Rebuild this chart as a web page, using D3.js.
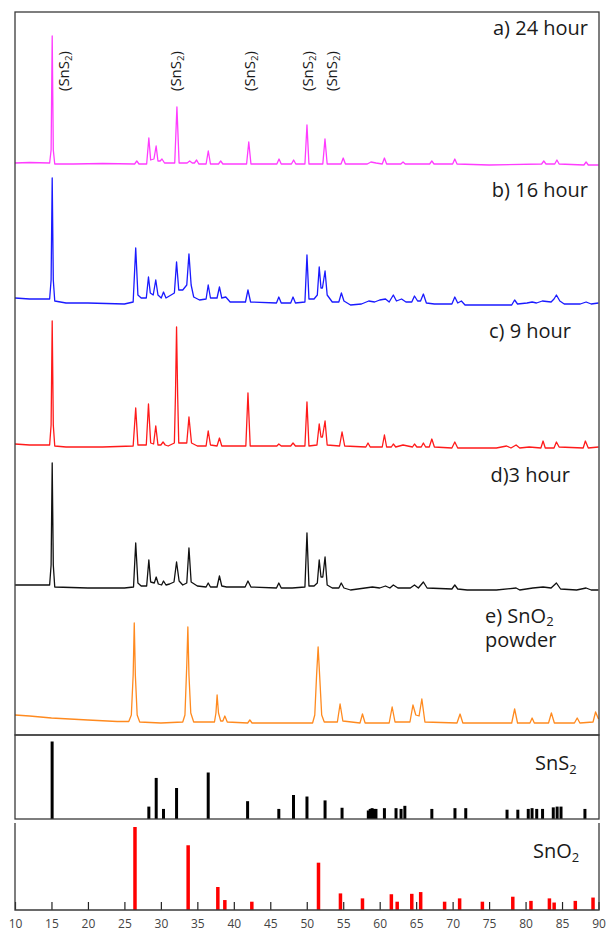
<!DOCTYPE html>
<html>
<head>
<meta charset="utf-8">
<script src="https://cdn.jsdelivr.net/npm/d3@7/dist/d3.min.js"></script>
<style>
body{margin:0;background:#fff;}
svg text{font-family:"Open Sans",sans-serif;}
</style>
</head>
<body>
<div class="xrd-graph"></div>
<script>
// [2theta, intensity], stacked offsets as in the sheet
var scan24h = [[10,572],[12,572.5],[14.75,572],[14.95,585],[15.1,699],[15.25,585],[15.45,571],
  [18,571],[22,571.5],[26.4,571],[26.7,574],[27.0,571],
  [28.05,571],[28.35,597],[28.6,575],[29.05,576],[29.35,589],[29.6,574],[29.9,574],[30.15,576],[30.5,572],
  [31.9,572],[32.2,628],[32.5,572],[33.6,572],[33.95,574],[34.3,572],[34.6,572],[34.9,575],[35.2,571],
  [36.2,571],[36.5,584],[36.8,571],[37.9,571],[38.2,574],[38.5,571],
  [41.75,571],[42.05,593],[42.35,571],[45.9,571],[46.2,576],[46.5,571],[47.9,571],[48.2,575],[48.5,571],
  [49.75,571],[50.03,610],[50.3,571],[52.2,571],[52.5,596],[52.8,571],[54.7,571],[55.0,577],[55.3,571],
  [58.3,571],[58.8,573],[59.5,572],[60.35,571],[60.65,577],[60.95,571],[62.9,571],[63.2,573],[63.5,571],
  [66.85,571],[67.15,574],[67.45,571],[70.0,571],[70.3,576],[70.6,571],[75,570],[82.2,571],[82.5,574],[82.8,571],
  [84.0,571],[84.3,575],[84.6,571],[88.0,570],[88.3,573],[88.6,570],[90,570]];

var scan16h = [[10,437],[12,436],[14.75,436],[14.95,455],[15.1,557],[15.25,455],[15.45,434],
  [17,432],[20,432],[25,431],[26.2,433],[26.55,487],[26.85,440],[27.3,437],
  [28.0,437],[28.3,458],[28.55,442],[28.95,440],[29.3,455],[29.6,440],[30.05,437],[30.36,443],[30.7,437],[31.4,440],
  [31.85,442],[32.15,473],[32.45,445],[33.0,445],[33.55,450],[33.85,481],[34.15,450],[34.5,438],[35.3,435],
  [36.2,436],[36.49,450],[36.8,437],[37.7,437],[38.03,448],[38.35,437],[38.9,438],[39.5,433],
  [41.6,433],[41.94,445],[42.3,433],[45.85,432],[46.17,438],[46.5,432],[47.8,432],[48.12,438],[48.45,432],
  [49.75,433],[50.03,480],[50.3,436],[51.0,436],[51.45,440],[51.71,468],[51.95,447],[52.15,447],[52.51,464],[52.8,440],[53.5,433],
  [54.4,433],[54.75,442],[55.1,434],[56,430],[57.5,431],[58.5,434],[59.3,433],[60,435],[60.8,436],[61.3,433],[61.87,440],[62.3,434],[63,436],[63.6,433],
  [64.4,433],[64.77,439],[65.2,434],[65.6,434],[65.99,441],[66.4,432],[67.5,431],
  [69.9,431],[70.3,438],[70.7,432],[71.2,434],[71.7,430],[75,430],[78.1,430],[78.5,435],[78.9,431],[80.2,432],[80.9,433],[81.5,432],
  [82.3,434],[83.5,433],[83.9,436],[84.23,440],[84.7,434],[85.3,431],[87.5,431],[88.3,433],[89,431],[90,432]];

var scan9h = [[10,291],[12,290],[14.75,290],[14.95,310],[15.1,414],[15.25,310],[15.45,289],
  [17,288],[22,288],[26.2,289],[26.55,327],[26.85,290],[28.0,290],[28.3,331],[28.6,292],[29.0,291],[29.3,309],[29.6,290],
  [30.0,290],[30.3,293],[30.6,290],[31.0,289],[31.85,292],[32.0,340],[32.15,408],[32.3,340],[32.45,292],
  [33.55,292],[33.85,318],[34.2,292],[35,289],[36.2,289],[36.49,304],[36.8,290],[37.7,289],[38.03,297],[38.35,289],
  [41.65,289],[41.94,342],[42.25,289],[45.9,289],[46.17,291],[46.5,289],[47.8,289],[48.12,292],[48.45,289],
  [49.75,289],[50.03,333],[50.3,289],[51.4,290],[51.71,311],[51.95,298],[52.15,298],[52.51,314],[52.8,290],
  [54.5,289],[54.84,303],[55.2,289],[58.1,288],[58.4,292],[58.7,288],[60.35,288],[60.65,300],[60.95,288],
  [61.6,288],[61.87,291],[62.2,288],[63.2,290],[64.5,288],[64.77,291],[65.1,288],[65.7,288],[65.99,292],[66.3,288],
  [66.8,288],[67.15,296],[67.5,288],[69.9,287],[70.3,293],[70.7,287],[72,287],[76,287],[77.4,289],[78.0,287],[78.7,290],[79.2,287],
  [80.5,288],[82.1,287],[82.4,294],[82.7,287],[83.9,287],[84.23,293],[84.6,288],[87.9,287],[88.2,294],[88.6,287],[90,288]];

var scan3h = [[10,150],[12,150],[14.75,150],[14.95,170],[15.1,272],[15.25,170],[15.45,148],
  [20,147],[25,147],[26.25,148],[26.55,192],[26.85,152],[27.3,149],[28.05,149],[28.35,175],[28.6,153],
  [29.1,152],[29.36,158],[29.65,151],[30.1,150],[30.36,154],[30.7,150],[31.2,151],
  [31.8,153],[32.15,173],[32.5,154],[33.0,150],[33.55,152],[33.85,187],[34.15,153],[35,149],
  [36.2,148],[36.49,152],[36.8,148],[37.7,148],[38.03,159],[38.35,149],[39,148],
  [41.55,148],[41.94,154],[42.35,148],[45.85,147],[46.17,152],[46.5,147],[48,147],
  [49.75,148],[50.03,202],[50.3,149],[51.0,149],[51.45,152],[51.71,175],[51.95,158],[52.2,158],[52.51,178],[52.8,150],[53.5,147],
  [54.4,147],[54.73,152],[55.1,147],[56,145],[58,147],[59,148],[60,147],[60.8,149],[61.4,147],[61.87,150],[62.5,147],
  [64.2,147],[64.77,150],[65.3,147],[65.99,153],[66.5,147],[69.9,146],[70.3,150],[70.7,146],[72,145],[76,145],
  [78.7,147],[79.2,145],[81,147],[82.4,148],[83.5,147],[84.23,152],[84.8,146],[87,145],[88.3,147],[89,145],[90,145]];

var scanSnO2 = [[10,20],[12,19],[15,17],[20,15],[24,13.5],
  [25.6,13.5],[25.95,20],[26.2,60],[26.35,112],[26.5,60],[26.75,20],[27.1,13],[30,12],
  [33.0,13],[33.3,20],[33.55,70],[33.7,108],[33.85,60],[34.1,22],[34.5,13],
  [37.35,13],[37.55,22],[37.71,40],[37.9,22],[38.2,14],[38.5,14],[38.77,19],[39.1,13],
  [41.9,12],[42.2,15],[42.5,12],[50.8,12],[51.1,20],[51.35,60],[51.56,88],[51.8,55],[52.05,20],[52.4,13],
  [54.2,13],[54.57,31],[54.95,14],[57.3,12],[57.64,21],[58.0,12],[61.3,12],[61.71,28],[62.1,13],
  [64.15,13],[64.56,30],[64.95,20],[65.4,19],[65.78,36],[66.2,13],[70.6,12],[71.02,21],[71.4,12],
  [78.1,12],[78.5,26],[78.9,12],[80.6,12],[80.9,17],[81.2,12],[83.15,12],[83.54,22],[83.95,12],
  [86.7,12],[87.08,17],[87.45,12],[89.25,13],[89.6,23],[90,16]];

// reference patterns (relative intensity %)
var sns2Theta = [15.09,28.35,29.36,30.36,32.15,36.49,41.89,46.17,48.18,50.03,52.51,54.84,
  58.44,58.7,58.96,59.23,59.49,60.65,62.24,62.93,63.45,67.15,70.32,71.8,77.46,78.94,
  80.37,80.89,81.53,82.33,83.8,84.33,84.86,88.14];
var sns2Rel = [100,16,53,13,40,60,23,13,31,29,24,14.5,
  11,13,14,13,13,14,14,13,17,13,14,14,12,12,
  13,14,13,13,15,16,16,13];
var sno2Theta = [26.45,33.74,37.81,38.77,42.47,51.61,54.62,57.64,61.6,62.4,64.4,65.62,
  68.9,70.96,74.08,78.25,80.74,83.27,83.92,86.82,89.25];
var sno2Rel = [100,78,27.7,12,10,57,20,14,19,10,19.5,21.6,
  10,14,10,16,11,14,9,11,15];

var peakMarks = [17.4, 32.76, 42.9, 50.8, 54.15];
var xTicks = [10,15,20,25,30,35,40,45,50,55,60,65,70,75,80,85,90];

graph('.xrd-graph');

function graph(selector){
    var w = 606;
    var h = 932;

    var svg = d3.select(selector)
    .append("svg")
    .attr("width", w)
    .attr("height", h);

    var x = d3.scaleLinear().domain([10, 90]).range([15, 598.5]);
    var y = d3.scaleLinear().domain([0, 723]).range([735, 12]);
    var yS = d3.scaleLinear().domain([0, 100]).range([819, 741.5]);
    var yO = d3.scaleLinear().domain([0, 100]).range([910, 827]);

    var line = d3.line()
    .x(function(d){ return x(d[0]); })
    .y(function(d){ return y(d[1]); });

    var scans = [
        {data: scan24h, color: '#ff3cff'},
        {data: scan16h, color: '#1a1aff'},
        {data: scan9h, color: '#ff1a1a'},
        {data: scan3h, color: '#111111'},
        {data: scanSnO2, color: '#ff8a1f'}
    ];

    svg.selectAll('path.scan')
    .data(scans)
    .enter()
    .append('path')
    .attr('class', 'scan')
    .attr('fill', 'none')
    .attr('stroke', function(d){ return d.color; })
    .attr('stroke-width', 1.3)
    .attr('stroke-linejoin', 'round')
    .attr('d', function(d){ return line(d.data); });

    // stick patterns
    svg.selectAll('line.sns2')
    .data(d3.zip(sns2Theta, sns2Rel))
    .enter()
    .append('line')
    .attr('class', 'sns2')
    .attr('x1', function(d){ return x(d[0]); })
    .attr('x2', function(d){ return x(d[0]); })
    .attr('y1', yS(0))
    .attr('y2', function(d){ return yS(d[1]); })
    .attr('stroke', '#000')
    .attr('stroke-width', 3);

    svg.selectAll('line.sno2')
    .data(d3.zip(sno2Theta, sno2Rel))
    .enter()
    .append('line')
    .attr('class', 'sno2')
    .attr('x1', function(d){ return x(d[0]); })
    .attr('x2', function(d){ return x(d[0]); })
    .attr('y1', yO(0))
    .attr('y2', function(d){ return yO(d[1]); })
    .attr('stroke', '#ff0000')
    .attr('stroke-width', 3.5);

    // axis with inward ticks
    var axis = svg.append('g')
    .attr('transform', 'translate(0,' + yO(0) + ')')
    .call(d3.axisBottom(x).tickValues(xTicks).tickSize(-8).tickPadding(9).tickSizeOuter(0));
    axis.select('.domain').remove();
    axis.selectAll('.tick line').attr('stroke', '#222').attr('stroke-width', 1.2);
    axis.selectAll('.tick text')
    .attr('fill', '#444')
    .style('font-size', '12px')
    .style('font-family', '"Open Sans",sans-serif');

    // frames
    var frame = '#3a3a3a';
    svg.append('rect').attr('x', 15).attr('y', 12).attr('width', 584).attr('height', 723)
    .attr('fill', 'none').attr('stroke', frame).attr('stroke-width', 1.3);
    svg.append('rect').attr('x', 15).attr('y', 735).attr('width', 584).attr('height', 84)
    .attr('fill', 'none').attr('stroke', frame).attr('stroke-width', 1.3);
    svg.append('path').attr('d', 'M15,823V910H599V823')
    .attr('fill', 'none').attr('stroke', frame).attr('stroke-width', 1.3);

    // sample labels
    var labels = [
        {t: 'a) 24 hour', x: 588, y: 35},
        {t: 'b) 16 hour', x: 588, y: 197},
        {t: 'c) 9 hour', x: 571, y: 338},
        {t: 'd)3 hour', x: 570, y: 482}
    ];
    svg.selectAll('text.label')
    .data(labels)
    .enter()
    .append('text')
    .attr('class', 'label')
    .attr('x', function(d){ return d.x; })
    .attr('y', function(d){ return d.y; })
    .attr('text-anchor', 'end')
    .attr('fill', '#1a1a1a')
    .style('font-size', '20px')
    .text(function(d){ return d.t; });

    // two-line label kept in one text element
    var e = svg.append('text').attr('x', 485).attr('y', 623);
    sub(e, 'e) SnO', '2', 20, 0.16);
    e.append('tspan').attr('x', 485).attr('dy', 20.8).text('powder');

    sub(svg.append('text').attr('x', 535).attr('y', 770), 'SnS', '2', 20, 0.22);
    sub(svg.append('text').attr('x', 533).attr('y', 858), 'SnO', '2', 20, 0.22);

    // (SnS2) peak marks
    peakMarks.forEach(function(t){
        var g = svg.append('text')
        .attr('transform', 'translate(' + x(t) + ',71) rotate(-90)')
        .attr('text-anchor', 'middle');
        sub(g, '(SnS', '2', 15, 0.22);
        g.append('tspan').attr('dy', -3).text(')');
    });
}

function sub(sel, main, s, size, shift){
    sel.attr('fill', '#1a1a1a').style('font-size', size + 'px');
    sel.append('tspan').text(main);
    sel.append('tspan').attr('dy', size * shift).style('font-size', (size * 0.65) + 'px').text(s);
    return sel;
}
</script>
</body>
</html>
